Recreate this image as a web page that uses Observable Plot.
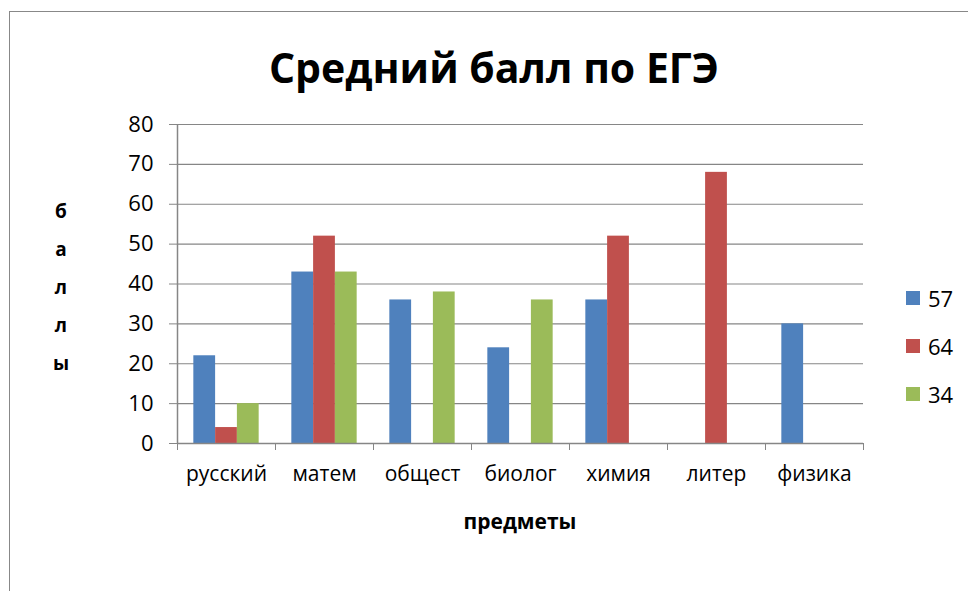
<!DOCTYPE html>
<html>
<head>
<meta charset="utf-8">
<script src="https://cdn.jsdelivr.net/npm/d3@7"></script>
<script src="https://cdn.jsdelivr.net/npm/@observablehq/plot@0.6"></script>
<style>
  html, body { margin: 0; padding: 0; background: #fff; overflow: hidden; }
  #wrap { position: relative; width: 968px; height: 591px; font-family: "Open Sans", sans-serif; color: #000; }
  #border { position: absolute; left: 9px; top: 11px; width: 2000px; height: 2000px; border: 1.5px solid #888; box-sizing: border-box; }
  #chart { position: absolute; left: 0; top: 0; }
  .ov { position: absolute; white-space: nowrap; transform: translate(-50%, -50%); line-height: 1; }
  #title { left: 494px; top: 67px; font-size: 41px; font-weight: 700; }
  #xtitle { left: 520px; top: 521px; font-size: 21px; font-weight: 700; }
  #ytitle { left: 61px; top: 287px; font-size: 19px; font-weight: 700; text-align: center; line-height: 38px; }
  #legend { position: absolute; left: 906px; top: 274px; }
  .li { display: flex; align-items: center; height: 48px; font-size: 22px; }
  .sw { width: 14px; height: 14px; margin-right: 8px; }
</style>
</head>
<body>
<div id="wrap">
  <div id="border"></div>
  <div id="chart"></div>
  <div id="title" class="ov">Средний балл по ЕГЭ</div>
  <div id="xtitle" class="ov">предметы</div>
  <div id="ytitle" class="ov"></div>
  <div id="legend"></div>
</div>
<script>
const categories = ["русский", "матем", "общест", "биолог", "химия", "литер", "физика"];
const seriesNames = ["57", "64", "34"];
const values57 = [22, 43, 36, 24, 36, null, 30];
const values64 = [4, 52, null, null, 52, 68, null];
const values34 = [10, 43, 38, 36, null, null, null];
const yTicks = [0, 10, 20, 30, 40, 50, 60, 70, 80];
const colors = ["#4F81BD", "#C0504D", "#9BBB59"];
const yTitle = "баллы";

const seriesValues = [values57, values64, values34];
const nSeries = seriesNames.length;
const gapWidth = 1.5; // Excel gap width 150%
const slots = nSeries + gapWidth;

const rows = [];
categories.forEach((c, i) => {
  seriesValues.forEach((vals, s) => {
    if (vals[i] != null) {
      rows.push({
        category: c,
        series: seriesNames[s],
        value: vals[i],
        x1: i + (gapWidth / 2 + s) / slots,
        x2: i + (gapWidth / 2 + s + 1) / slots
      });
    }
  });
});

const boundaries = d3.range(categories.length + 1);

const chart = Plot.plot({
  width: 968,
  height: 591,
  marginLeft: 177,
  marginRight: 105,
  marginTop: 124,
  marginBottom: 148,
  style: { fontFamily: "Open Sans, sans-serif", fontSize: "22px", color: "#000", background: "transparent" },
  x: { type: "linear", domain: [0, categories.length], axis: null },
  y: { domain: [0, 80], axis: null, label: null },
  color: { domain: seriesNames, range: colors },
  marks: [
    Plot.ruleY(yTicks.filter(d => d > 0), { x1: 0, x2: categories.length, stroke: "#868686", strokeWidth: 1.2 }),
    Plot.rectY(rows, { x1: "x1", x2: "x2", y1: 0, y2: "value", fill: "series" }),
    Plot.ruleY([0], { x1: 0, x2: categories.length, stroke: "#868686", strokeWidth: 1.5 }),
    Plot.ruleX([0], { y1: 0, y2: 80, stroke: "#868686", strokeWidth: 1.5 }),
    Plot.axisY(yTicks, { anchor: "left", label: null, tickSize: 8, tickPadding: 16, fontSize: 22, stroke: "#868686", fill: "#000" }),
    Plot.axisX(boundaries, { anchor: "bottom", label: null, tickSize: 7, tickFormat: () => "", stroke: "#868686" }),
    Plot.text(categories, { x: (d, i) => i + 0.5, y: () => 0, dy: 31, text: d => d, fontSize: 21, fill: "#000" })
  ]
});
document.getElementById("chart").appendChild(chart);

document.getElementById("ytitle").innerHTML = yTitle.split("").join("<br>");

const legend = document.getElementById("legend");
seriesNames.forEach((name, i) => {
  const row = document.createElement("div");
  row.className = "li";
  const sw = document.createElement("div");
  sw.className = "sw";
  sw.style.background = colors[i];
  const t = document.createElement("span");
  t.textContent = name;
  row.appendChild(sw);
  row.appendChild(t);
  legend.appendChild(row);
});
</script>
</body>
</html>
